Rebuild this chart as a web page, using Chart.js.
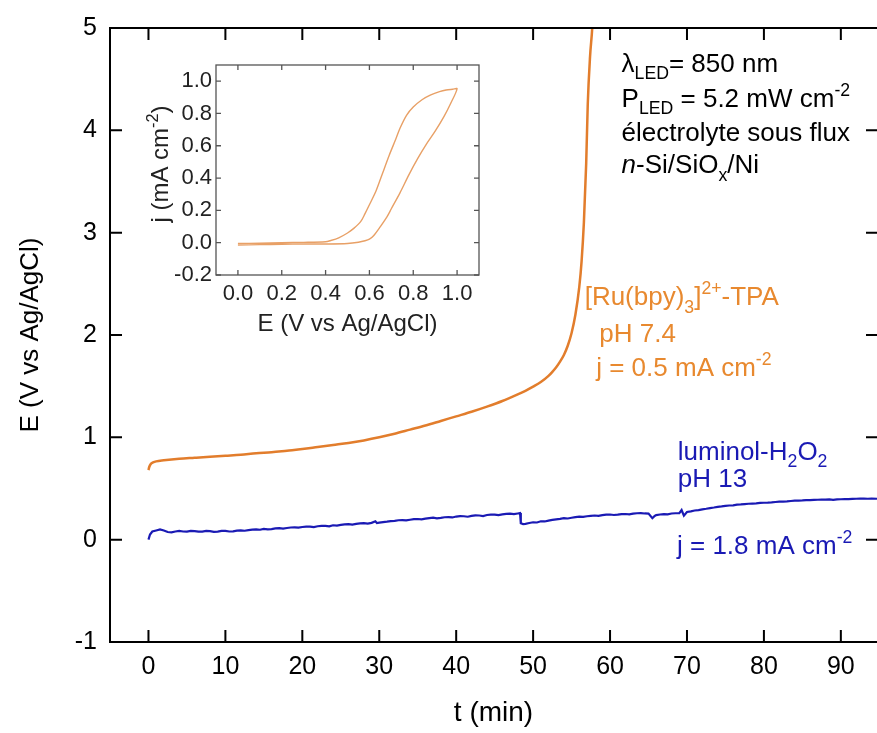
<!DOCTYPE html>
<html><head><meta charset="utf-8">
<script src="https://cdn.jsdelivr.net/npm/chart.js@4.4.1/dist/chart.umd.min.js"></script>
<style>
html,body{margin:0;padding:0;background:#fff;overflow:hidden}
#wrap{position:relative;width:877px;height:733px}
#main{position:absolute;left:0;top:0}
#inset{position:absolute;left:130px;top:40px}
</style></head><body>
<div id="wrap"><canvas id="main" width="877" height="733"></canvas><canvas id="inset" width="355" height="305"></canvas></div>
<script>
// ---------- data ----------
const xTickValues = [0, 10, 20, 30, 40, 50, 60, 70, 80, 90];
const yTickValues = [-1, 0, 1, 2, 3, 4, 5];

// [Ru(bpy)3]2+-TPA chronopotentiometry
const tRu = [0.0, 0.1, 0.3, 0.6, 1.0, 2.0, 4.0, 6.0, 8.0, 10.0, 12.0, 14.0, 16.0, 18.0, 20.0, 22.0, 24.0, 26.0, 28.0, 30.0, 32.0, 34.0, 36.0, 38.0, 40.0, 42.0, 44.0, 46.0, 48.0, 49.0, 50.0, 51.0, 52.0, 52.5, 53.0, 53.5, 54.0, 54.5, 55.0, 55.5, 56.0, 56.3, 56.6, 56.9, 57.1, 57.4, 57.7, 57.8];
const eRu = [0.68, 0.71, 0.74, 0.755, 0.765, 0.775, 0.79, 0.80, 0.81, 0.82, 0.83, 0.845, 0.855, 0.87, 0.885, 0.905, 0.925, 0.945, 0.97, 1.00, 1.035, 1.075, 1.115, 1.16, 1.205, 1.25, 1.30, 1.355, 1.42, 1.455, 1.495, 1.54, 1.60, 1.64, 1.685, 1.74, 1.805, 1.895, 2.02, 2.20, 2.47, 2.72, 3.10, 3.68, 4.25, 4.72, 5.02, 5.20];

// luminol-H2O2 chronopotentiometry
const tLum = [0, 0.2, 0.5, 1.0, 1.5, 2.0, 2.5, 3.0, 3.5, 4.0, 4.5, 5.0, 5.5, 6.0, 6.5, 7.0, 7.5, 8.0, 8.5, 9.0, 9.5, 10.0, 10.5, 11.0, 11.5, 12.0, 12.5, 13.0, 13.5, 14.0, 14.5, 15.0, 15.5, 16.0, 16.5, 17.0, 17.5, 18.0, 18.5, 19.0, 19.5, 20.0, 20.5, 21.0, 21.5, 22.0, 22.5, 23.0, 23.5, 24.0, 24.5, 25.0, 25.5, 26.0, 26.5, 27.0, 27.5, 28.0, 28.5, 29.0, 29.5, 29.7, 30.0, 30.5, 31.0, 31.5, 32.0, 32.5, 33.0, 33.5, 34.0, 34.5, 35.0, 35.5, 36.0, 36.5, 37.0, 37.5, 38.0, 38.5, 39.0, 39.5, 40.0, 40.5, 41.0, 41.5, 42.0, 42.5, 43.0, 43.5, 44.0, 44.5, 45.0, 45.5, 46.0, 46.5, 47.0, 47.5, 48.0, 48.3, 48.4, 48.7, 49.0, 49.5, 50.0, 50.5, 51.0, 51.5, 52.0, 52.5, 53.0, 53.5, 54.0, 54.5, 55.0, 55.5, 56.0, 56.5, 57.0, 57.5, 58.0, 58.5, 59.0, 59.5, 60.0, 60.5, 61.0, 61.5, 62.0, 62.5, 63.0, 63.5, 64.0, 64.5, 65.0, 65.5, 65.8, 66.0, 66.5, 67.0, 67.5, 68.0, 68.5, 69.0, 69.3, 69.6, 70.0, 70.5, 71.0, 71.5, 72.0, 72.5, 73.0, 73.5, 74.0, 74.5, 75.0, 75.5, 76.0, 76.5, 77.0, 77.5, 78.0, 78.5, 79.0, 79.5, 80.0, 80.5, 81.0, 81.5, 82.0, 82.5, 83.0, 83.5, 84.0, 84.5, 85.0, 85.5, 86.0, 86.5, 87.0, 87.5, 88.0, 88.5, 89.0, 89.5, 90.0, 90.5, 91.0, 91.5, 92.0, 92.5, 93.0, 93.5, 94.0, 94.7];
const eLum = [0.00, 0.05, 0.08, 0.09, 0.10, 0.09, 0.075, 0.072, 0.08, 0.086, 0.08, 0.079, 0.085, 0.084, 0.079, 0.078, 0.085, 0.083, 0.077, 0.079, 0.086, 0.086, 0.08, 0.081, 0.088, 0.09, 0.087, 0.094, 0.098, 0.10, 0.097, 0.106, 0.101, 0.103, 0.11, 0.112, 0.108, 0.114, 0.119, 0.121, 0.117, 0.124, 0.128, 0.127, 0.122, 0.131, 0.135, 0.134, 0.13, 0.141, 0.138, 0.144, 0.149, 0.152, 0.147, 0.154, 0.159, 0.161, 0.157, 0.164, 0.18, 0.162, 0.166, 0.172, 0.176, 0.181, 0.184, 0.19, 0.191, 0.188, 0.195, 0.20, 0.202, 0.199, 0.205, 0.211, 0.216, 0.209, 0.213, 0.219, 0.221, 0.217, 0.226, 0.23, 0.229, 0.224, 0.232, 0.237, 0.236, 0.231, 0.241, 0.245, 0.244, 0.24, 0.247, 0.252, 0.254, 0.25, 0.256, 0.26, 0.16, 0.152, 0.155, 0.163, 0.17, 0.168, 0.18, 0.178, 0.186, 0.193, 0.199, 0.203, 0.21, 0.207, 0.214, 0.221, 0.226, 0.222, 0.229, 0.233, 0.236, 0.232, 0.239, 0.244, 0.246, 0.241, 0.244, 0.25, 0.251, 0.247, 0.254, 0.258, 0.26, 0.256, 0.255, 0.21, 0.232, 0.24, 0.246, 0.25, 0.247, 0.256, 0.258, 0.26, 0.29, 0.235, 0.27, 0.276, 0.285, 0.289, 0.296, 0.302, 0.309, 0.314, 0.321, 0.325, 0.33, 0.334, 0.336, 0.342, 0.344, 0.348, 0.351, 0.353, 0.354, 0.359, 0.361, 0.362, 0.364, 0.368, 0.371, 0.372, 0.374, 0.378, 0.381, 0.382, 0.384, 0.387, 0.386, 0.389, 0.39, 0.392, 0.391, 0.393, 0.389, 0.393, 0.395, 0.397, 0.396, 0.398, 0.40, 0.401, 0.401, 0.40, 0.402, 0.40];

// inset cyclic voltammogram
const cvE = [0.00, 0.10, 0.20, 0.30, 0.40, 0.50, 0.55, 0.58, 0.60, 0.62, 0.65, 0.68, 0.70, 0.74, 0.78, 0.82, 0.86, 0.90, 0.94, 0.97, 1.00, 0.98, 0.95, 0.92, 0.88, 0.84, 0.80, 0.77, 0.74, 0.72, 0.69, 0.66, 0.63, 0.60, 0.58, 0.56, 0.53, 0.50, 0.46, 0.42, 0.40, 0.30, 0.20, 0.10, 0.00];
const cvJ = [-0.015, -0.012, -0.010, -0.008, -0.008, -0.005, 0.003, 0.012, 0.022, 0.045, 0.10, 0.16, 0.21, 0.31, 0.42, 0.52, 0.61, 0.69, 0.78, 0.86, 0.953, 0.950, 0.945, 0.935, 0.915, 0.885, 0.84, 0.79, 0.71, 0.64, 0.54, 0.43, 0.32, 0.235, 0.18, 0.13, 0.09, 0.06, 0.03, 0.012, 0.006, 0.002, 0.000, -0.003, -0.005];
const insetXTicks = [0, 0.2, 0.4, 0.6, 0.8, 1.0];
const insetYTicks = [-0.2, 0, 0.2, 0.4, 0.6, 0.8, 1.0];

// ---------- texts ----------
const ORANGE = '#e27d2c';
const ORANGE_TXT = '#e8892f';
const BLUE = '#1a1ab4';
const annotations = [
  {t: 61.5, e: 4.57, color: '#000', segs: [['λ'], ['LED', 'sub'], ['= 850 nm']]},
  {t: 61.5, e: 4.23, color: '#000', segs: [['P'], ['LED', 'sub'], [' = 5.2 mW cm'], ['-2', 'sup']]},
  {t: 61.5, e: 3.90, color: '#000', segs: [['électrolyte sous flux']]},
  {t: 61.5, e: 3.58, color: '#000', segs: [['n', 'it'], ['-Si/SiO'], ['x', 'sub'], ['/Ni']]},
  {t: 56.7, e: 2.29, color: ORANGE_TXT, segs: [['[Ru(bpy)'], ['3', 'sub'], [']'], ['2+', 'sup'], ['-TPA']]},
  {t: 58.6, e: 1.93, color: ORANGE_TXT, segs: [['pH 7.4']]},
  {t: 58.2, e: 1.60, color: ORANGE_TXT, segs: [['j = 0.5 mA cm'], ['-2', 'sup']]},
  {t: 68.8, e: 0.78, color: BLUE, segs: [['luminol-H'], ['2', 'sub'], ['O'], ['2', 'sub']]},
  {t: 68.8, e: 0.51, color: BLUE, segs: [['pH 13']]},
  {t: 68.7, e: -0.14, color: BLUE, segs: [['j = 1.8 mA cm'], ['-2', 'sup']]}
];

const FONT = '"Liberation Sans", Arial, sans-serif';

function drawRich(ctx, x, y, segs, size, color) {
  ctx.fillStyle = color;
  ctx.textBaseline = 'alphabetic';
  ctx.textAlign = 'left';
  let cx = x;
  for (const [txt, kind] of segs) {
    let s = size, dy = 0, style = '';
    if (kind === 'sub') { s = size * 0.68; dy = size * 0.28; }
    if (kind === 'sup') { s = size * 0.68; dy = -size * 0.42; }
    if (kind === 'it') style = 'italic ';
    ctx.font = style + s + 'px ' + FONT;
    ctx.fillText(txt, cx, y + dy);
    cx += ctx.measureText(txt).width;
  }
}

const mainDecor = {
  id: 'mainDecor',
  afterDraw(chart) {
    const {ctx, chartArea: a, scales: {x, y}} = chart;
    ctx.save();
    ctx.strokeStyle = '#000';
    ctx.lineWidth = 2;
    ctx.beginPath();
    ctx.moveTo(a.left - 1, a.top); ctx.lineTo(a.right, a.top);
    xTickValues.forEach(v => {
      const p = x.getPixelForValue(v);
      ctx.moveTo(p, a.bottom); ctx.lineTo(p, a.bottom - 12);
      ctx.moveTo(p, a.top); ctx.lineTo(p, a.top + 12);
    });
    yTickValues.forEach(v => {
      const p = y.getPixelForValue(v);
      ctx.moveTo(a.left, p); ctx.lineTo(a.left + 12, p);
      ctx.moveTo(a.right, p); ctx.lineTo(a.right - 11, p);
    });
    ctx.stroke();
    annotations.forEach(an => {
      drawRich(ctx, x.getPixelForValue(an.t), y.getPixelForValue(an.e), an.segs, 26, an.color);
    });
    ctx.restore();
  }
};

new Chart(document.getElementById('main'), {
  type: 'scatter',
  data: {
    datasets: [
      {data: tRu.map((t, i) => ({x: t, y: eRu[i]})), showLine: true, borderColor: ORANGE, borderWidth: 2.5, pointRadius: 0, cubicInterpolationMode: 'monotone'},
      {data: tLum.map((t, i) => ({x: t, y: eLum[i]})), showLine: true, borderColor: BLUE, borderWidth: 2.2, pointRadius: 0, tension: 0}
    ]
  },
  options: {
    responsive: false,
    animation: false,
    devicePixelRatio: 1,
    layout: {padding: {top: 20, right: 0, left: 0, bottom: 0}},
    plugins: {legend: {display: false}, tooltip: {enabled: false}},
    scales: {
      x: {
        type: 'linear', min: -5, max: 94.7,
        afterBuildTicks: s => { s.ticks = xTickValues.map(v => ({value: v})); },
        afterFit: s => { s.height = 91; },
        grid: {display: false, drawTicks: false},
        border: {display: true, color: '#000', width: 2},
        ticks: {color: '#000', padding: 10, font: {family: FONT, size: 25}, maxRotation: 0, callback: v => String(v)},
        title: {display: true, text: 't (min)', color: '#000', font: {family: FONT, size: 28, lineHeight: 1.2}, padding: {top: 0, bottom: 3}}
      },
      y: {
        type: 'linear', min: -1, max: 5,
        afterBuildTicks: s => { s.ticks = yTickValues.map(v => ({value: v})); },
        afterFit: s => { s.width = 110; },
        grid: {display: false, drawTicks: false},
        border: {display: true, color: '#000', width: 2},
        ticks: {color: '#000', padding: 13, font: {family: FONT, size: 25}, callback: v => String(v)},
        title: {display: true, text: 'E (V vs Ag/AgCl)', color: '#000', font: {family: FONT, size: 26, lineHeight: 1.2}, padding: {top: 15, bottom: 0}}
      }
    }
  },
  plugins: [mainDecor]
});

// ---------- inset ----------
const GRAY = '#555';
const insetDecor = {
  id: 'insetDecor',
  afterDraw(chart) {
    const {ctx, chartArea: a, scales: {x, y}} = chart;
    ctx.save();
    ctx.strokeStyle = GRAY;
    ctx.lineWidth = 1.3;
    ctx.strokeRect(a.left, a.top, a.right - a.left, a.bottom - a.top);
    ctx.beginPath();
    insetXTicks.forEach(v => {
      const p = x.getPixelForValue(v);
      ctx.moveTo(p, a.bottom); ctx.lineTo(p, a.bottom - 5);
      ctx.moveTo(p, a.top); ctx.lineTo(p, a.top + 5);
    });
    insetYTicks.forEach(v => {
      const p = y.getPixelForValue(v);
      ctx.moveTo(a.left, p); ctx.lineTo(a.left + 5, p);
      ctx.moveTo(a.right, p); ctx.lineTo(a.right - 5, p);
    });
    ctx.stroke();
    // x title
    ctx.fillStyle = '#222';
    ctx.font = '24px ' + FONT;
    ctx.textAlign = 'center';
    ctx.textBaseline = 'alphabetic';
    ctx.fillText('E (V vs Ag/AgCl)', (a.left + a.right) / 2, a.bottom + 56);
    // y title (rotated, with superscript)
    ctx.translate(a.left - 48, (a.top + a.bottom) / 2 - 6);
    ctx.rotate(-Math.PI / 2);
    const segs = [['j (mA cm'], ['-2', 'sup'], [')']];
    let w = 0;
    segs.forEach(([t, k]) => { ctx.font = (k ? 24 * 0.68 : 24) + 'px ' + FONT; w += ctx.measureText(t).width; });
    drawRich(ctx, -w / 2, 0, segs, 24, '#222');
    ctx.restore();
  }
};

new Chart(document.getElementById('inset'), {
  type: 'scatter',
  data: {
    datasets: [
      {data: cvE.map((e, i) => ({x: e, y: cvJ[i]})), showLine: true, borderColor: '#e8a066', borderWidth: 1.4, pointRadius: 0, tension: 0.3}
    ]
  },
  options: {
    responsive: false,
    animation: false,
    devicePixelRatio: 1,
    layout: {padding: {top: 25, right: 6, left: 0, bottom: 0}},
    plugins: {legend: {display: false}, tooltip: {enabled: false}},
    scales: {
      x: {
        type: 'linear', min: -0.1, max: 1.1,
        afterBuildTicks: s => { s.ticks = insetXTicks.map(v => ({value: v})); },
        afterFit: s => { s.height = 70; },
        grid: {display: false, drawTicks: false},
        border: {display: false},
        ticks: {color: '#222', padding: 6, font: {family: FONT, size: 22}, maxRotation: 0, callback: v => v.toFixed(1)}
      },
      y: {
        type: 'linear', min: -0.2, max: 1.1,
        afterBuildTicks: s => { s.ticks = insetYTicks.map(v => ({value: v})); },
        afterFit: s => { s.width = 86; },
        grid: {display: false, drawTicks: false},
        border: {display: false},
        ticks: {color: '#222', padding: 4, font: {family: FONT, size: 22}, callback: v => v.toFixed(1)}
      }
    }
  },
  plugins: [insetDecor]
});
</script>
</body></html>
